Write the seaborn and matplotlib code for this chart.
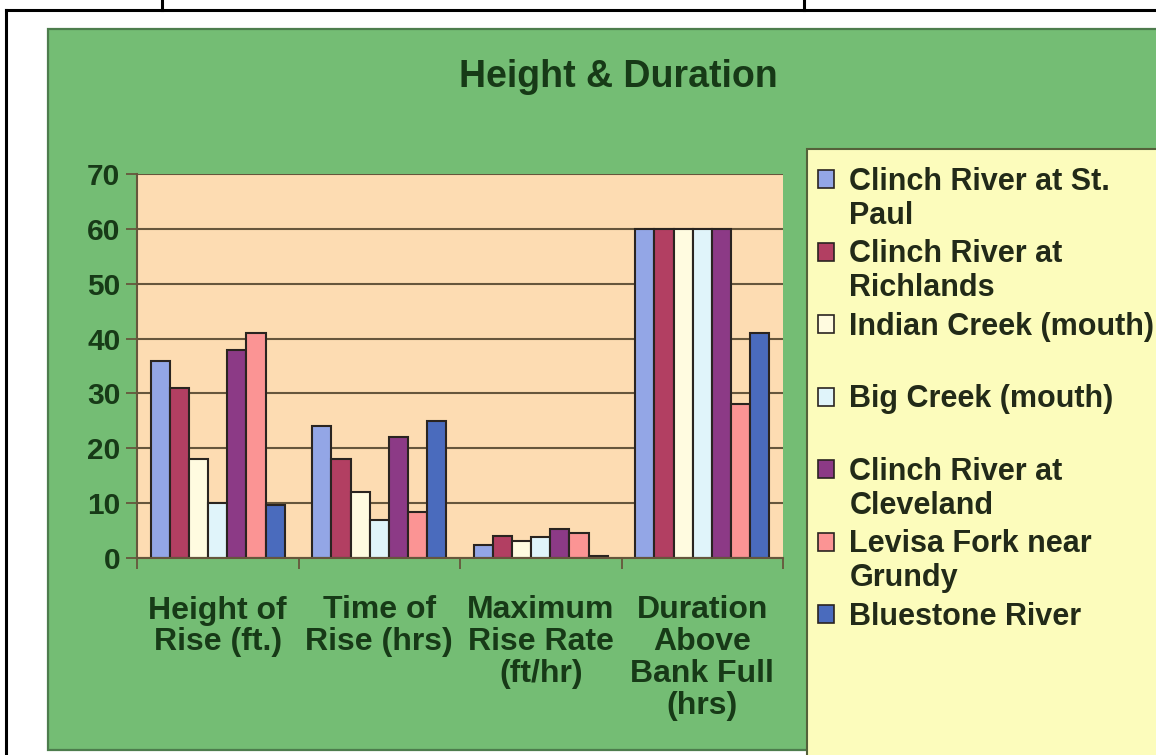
import matplotlib
matplotlib.use("Agg")
import matplotlib.pyplot as plt
from matplotlib.patches import Rectangle, Patch
from matplotlib.lines import Line2D
import seaborn as sns
import pandas as pd

# ---------------- data ----------------
metrics = ["Height of\nRise (ft.)", "Time of\nRise (hrs)",
           "Maximum\nRise Rate\n(ft/hr)", "Duration\nAbove\nBank Full\n(hrs)"]
stations = ["Clinch River at St. Paul", "Clinch River at Richlands",
            "Indian Creek (mouth)", "Big Creek (mouth)",
            "Clinch River at Cleveland", "Levisa Fork near Grundy",
            "Bluestone River"]
height_of_rise = [36, 31, 18, 10, 38, 41, 9.7]
time_of_rise = [24, 18, 12, 7, 22, 8.3, 25]
max_rise_rate = [2.4, 4.1, 3.1, 3.9, 5.2, 4.5, 0.4]
duration_above_bank_full = [60, 60, 60, 60, 60, 28, 41]
legend_first = ["Clinch River at St.", "Clinch River at", "Indian Creek (mouth)",
                "Big Creek (mouth)", "Clinch River at", "Levisa Fork near",
                "Bluestone River"]
legend_second = ["Paul", "Richlands", "", "", "Cleveland", "Grundy", ""]
colors = ["#93a6e6", "#b23f62", "#fffbe0", "#e0f4fa", "#8c3a86", "#fb9494", "#4a6bbd"]

series = [height_of_rise, time_of_rise, max_rise_rate, duration_above_bank_full]
rows = []
for m, vals in zip(metrics, series):
    for s, v in zip(stations, vals):
        rows.append({"metric": m, "station": s, "value": v})
df = pd.DataFrame(rows)

# ---------------- style ----------------
plt.rcParams['font.family'] = ['Liberation Sans', 'DejaVu Sans']
plt.rcParams['font.weight'] = 'bold'

W, H = 1156, 755
def fx(px):
    return px / W
def fy(py):
    return 1 - py / H

fig = plt.figure(figsize=(W / 100, H / 100), dpi=100, facecolor='white')

# green chart background
fig.add_artist(Rectangle((fx(48), fy(750)), fx(1170) - fx(48), fy(29) - fy(750),
                         transform=fig.transFigure, facecolor='#74bd74',
                         edgecolor='#4d7d4d', lw=1.6, zorder=-3))
# legend background
fig.add_artist(Rectangle((fx(807), fy(770)), fx(1170) - fx(807), fy(149) - fy(770),
                         transform=fig.transFigure, facecolor='#fcfcbc',
                         edgecolor='#55603a', lw=1.5, zorder=-2))
# page table lines
line_kw = dict(transform=fig.transFigure, color='black', lw=2.2, zorder=5)
fig.add_artist(Line2D([fx(6), 1], [fy(10), fy(10)], **line_kw))
fig.add_artist(Line2D([fx(6), fx(6)], [fy(10), 0], **line_kw))
fig.add_artist(Line2D([fx(162), fx(162)], [1, fy(10)], **line_kw))
fig.add_artist(Line2D([fx(804), fx(804)], [1, fy(10)], **line_kw))

fig.text(fx(618), fy(77), "Height & Duration", ha='center', va='center',
         fontsize=27, fontweight='bold', color='#173a17')

ax = fig.add_axes([fx(137), fy(558), fx(783) - fx(137), fy(174) - fy(558)])
ax.set_facecolor('#fddcb2')
ax.set_axisbelow(True)

sns.barplot(data=df, x="metric", y="value", hue="station", order=metrics,
            hue_order=stations, palette=colors, saturation=1, width=0.83,
            edgecolor='#2a2420', linewidth=1.5, errorbar=None, legend=False, ax=ax)

spine_c = '#66563c'
ax.set_ylim(0, 70)
ax.set_yticks(range(0, 80, 10))
ax.set_xlim(-0.5, 3.5)
ax.yaxis.grid(True, color=spine_c, lw=1.5)
ax.xaxis.grid(False)
for s in ['top', 'right']:
    ax.spines[s].set_visible(False)
for s in ['left', 'bottom']:
    ax.spines[s].set_color(spine_c)
    ax.spines[s].set_linewidth(1.5)
ax.set_xlabel('')
ax.set_ylabel('')
ax.tick_params(axis='y', direction='out', length=8, width=1.3, color=spine_c,
               labelsize=21.5, pad=4, labelcolor='#173a17')
ax.tick_params(axis='x', which='major', length=0, pad=27, labelsize=23,
               labelcolor='#173a17')
ax.set_xticks([-0.5, 0.5, 1.5, 2.5, 3.5], minor=True)
ax.tick_params(axis='x', which='minor', direction='out', length=8, width=1.3,
               color=spine_c)
for lab in ax.get_xticklabels():
    lab.set_linespacing(1.08)
    lab.set_fontweight('bold')
for lab in ax.get_yticklabels():
    lab.set_fontweight('bold')

handles = [Patch(facecolor=c, edgecolor='#2a2420', lw=1.2) for c in colors]
leg = fig.legend(handles, legend_first, loc='upper left',
                 bbox_to_anchor=(fx(818), fy(167)), bbox_transform=fig.transFigure,
                 frameon=False, fontsize=22, handlelength=0.53, handleheight=0.53,
                 handletextpad=0.5, labelspacing=1.39, borderpad=0, borderaxespad=0,
                 labelcolor='#222a18')
for t in leg.get_texts():
    t.set_fontweight('bold')

fig.canvas.draw()
for t, second in zip(leg.get_texts(), legend_second):
    if not second:
        continue
    xd, yd = t.get_transform().transform(t.get_position())
    fig.text(xd / W, (yd - 34) / H, second, ha='left', va='baseline',
             fontsize=22, fontweight='bold', color='#222a18')

fig.savefig("out.png", dpi=100, facecolor='white')
